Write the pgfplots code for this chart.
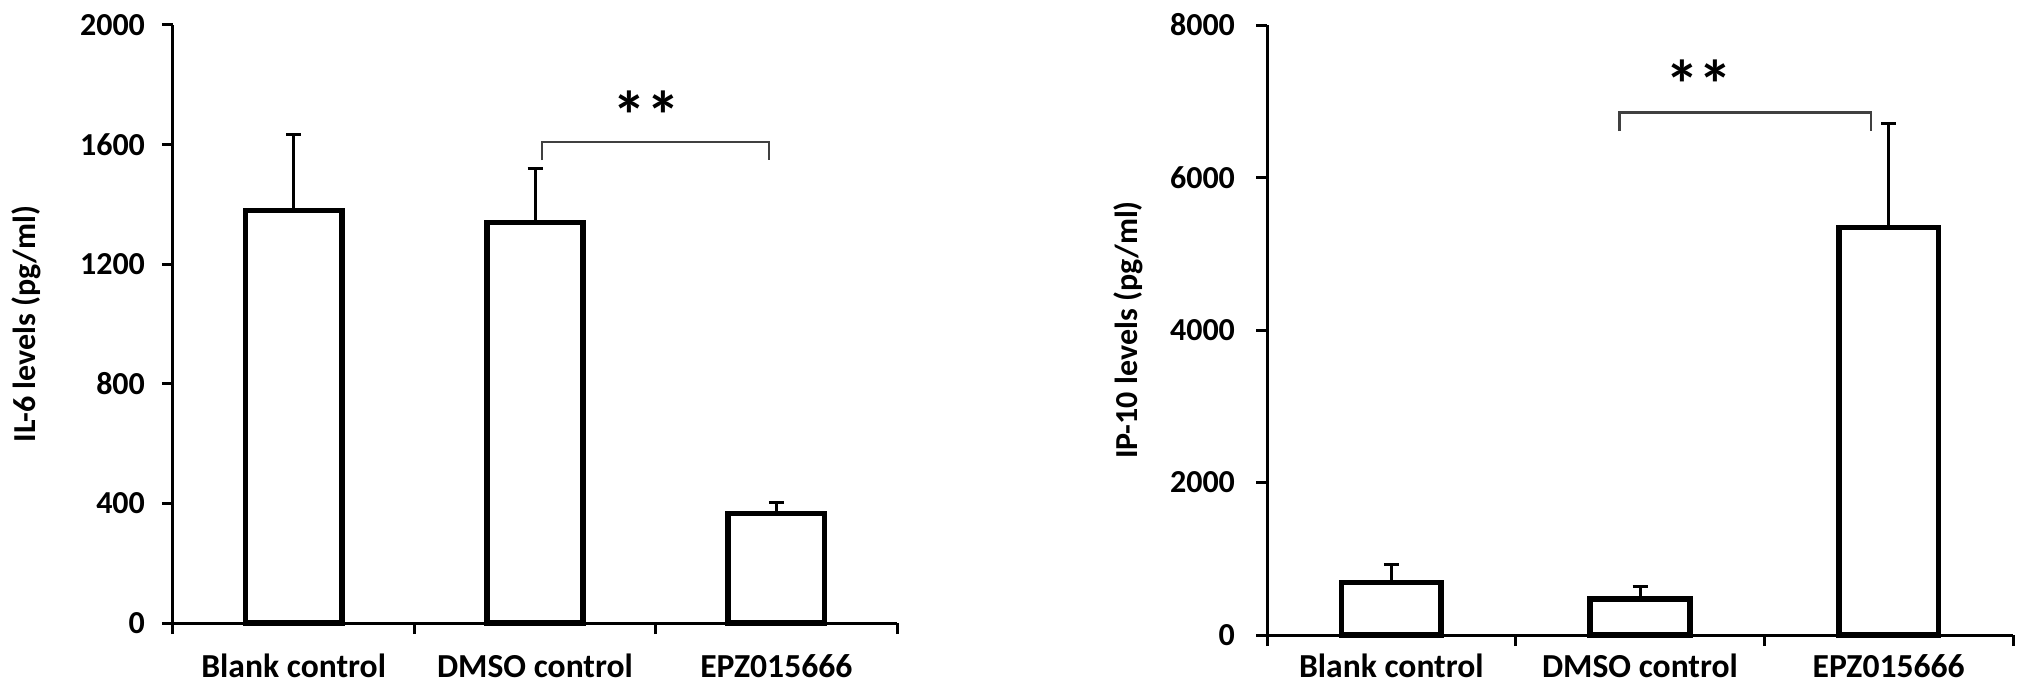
\documentclass[border=0pt]{standalone}
\usepackage{fontspec}
\setmainfont{Carlito}
\usepackage{pgfplots}
\pgfplotsset{compat=1.18}
\tikzset{stars/.style={font=\bfseries\fontsize{34}{40}\selectfont, anchor=base, inner sep=0pt}}
\pgfplotsset{
  barchart/.style={
    scale only axis,
    anchor=south west,
    axis x line=bottom, axis y line=left,
    axis line style={-, line width=1.5pt, black},
    xmin=-0.5, xmax=2.5, ymin=0,
    xtick={-0.5,0.5,1.5,2.5},
    xticklabels={},
    extra x ticks={0,1,2},
    extra x tick labels={Blank control,DMSO control,EPZ015666},
    tick align=outside,
    major tick length=5.5pt,
    tick style={line width=1.5pt, black},
    /pgf/number format/.cd, 1000 sep={}, assume math mode=true, /pgfplots/.cd,
    every tick label/.append style={font=\bfseries\fontsize{16}{19}\selectfont, text=black},
    every axis y label/.style={rotate=90, anchor=center, font=\bfseries\fontsize{16}{19}\selectfont},
    ybar, bar width=0.4,
    clip=false,
  },
  barplot/.style={
    fill=white, draw=black, line width=2.8pt,
    error bars/.cd, y dir=plus, y explicit,
    error bar style={line width=1.5pt, black},
    error mark options={rotate=90, line width=1.5pt, mark size=3.75pt, black},
  },
}
\begin{document}
\begin{tikzpicture}[font=\bfseries\fontsize{16}{19}\selectfont]
\useasboundingbox (0,0) rectangle (1015.5pt,346pt);
\begin{axis}[barchart,
  at={(86.5pt,34.5pt)}, width=362pt, height=299pt,
  ymax=2000, ytick={0,400,800,1200,1600,2000},
  yticklabel style={xshift=-5pt},
  extra x tick style={major tick length=0pt, tick style={draw=none},
    xticklabel style={yshift=-12pt, font=\bfseries\fontsize{16.8}{19}\selectfont}},
  ylabel={IL-6 levels (pg/ml)},
  every axis y label/.append style={at={(axis description cs:-0.2023,0.5)}},
]
\addplot[barplot] coordinates {(0,1380) +- (0,254) (1,1339) +- (0,180) (2,366) +- (0,37)};
\draw[black!75, line width=1.2pt] (axis cs:1.03,1548) |- (axis cs:1.97,1609) -- (axis cs:1.97,1548);
\node[stars] at (axis cs:1.46,1618) {**};
\end{axis}
\begin{axis}[barchart,
  at={(633.5pt,28.5pt)}, width=373pt, height=305pt,
  ymax=8000, ytick={0,2000,4000,6000,8000},
  yticklabel style={xshift=-7pt},
  extra x tick style={major tick length=0pt, tick style={draw=none},
    xticklabel style={yshift=-6pt, font=\bfseries\fontsize{16.8}{19}\selectfont}},
  ylabel={IP-10 levels (pg/ml)},
  every axis y label/.append style={at={(axis description cs:-0.1863,0.5)}},
]
\addplot[barplot] coordinates {(0,690) +- (0,232) (1,475) +- (0,157) (2,5345) +- (0,1362)};
\draw[black!75, line width=1.2pt] (axis cs:0.918,6609) |- (axis cs:1.928,6852) -- (axis cs:1.928,6609);
\node[stars] at (axis cs:1.237,6910) {**};
\end{axis}
\end{tikzpicture}
\end{document}
